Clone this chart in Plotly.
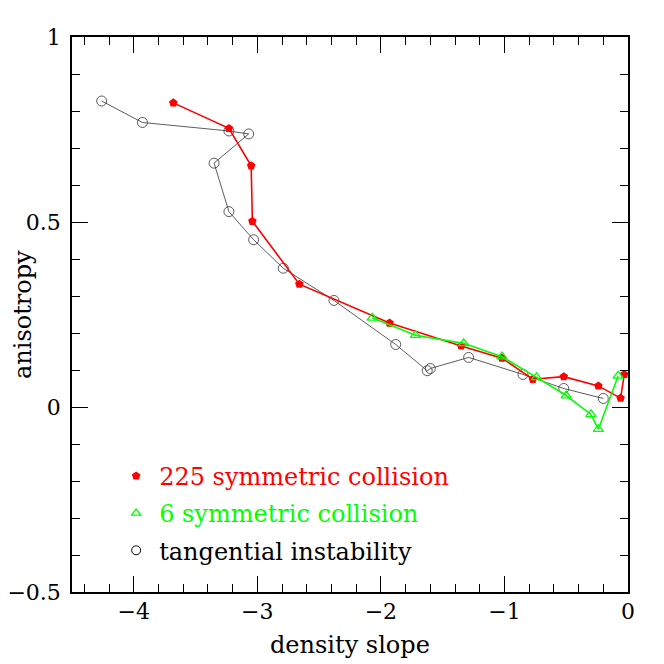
import plotly.graph_objects as go

# 225 symmetric collision
red_x = [-3.68, -3.23, -3.05, -3.04, -2.66, -1.93, -1.35, -1.02, -0.77, -0.52, -0.24, -0.06, -0.03]
red_y = [0.822, 0.753, 0.652, 0.502, 0.332, 0.227, 0.165, 0.132, 0.075, 0.082, 0.057, 0.024, 0.088]

# 6 symmetric collision
green_x = [-2.07, -1.72, -1.33, -1.02, -0.74, -0.50, -0.30, -0.24, -0.08]
green_y = [0.241, 0.194, 0.172, 0.136, 0.080, 0.031, -0.020, -0.060, 0.084]

# tangential instability
black_x = [-4.26, -3.93, -3.23, -3.07, -3.35, -3.23, -3.03, -2.79, -2.38, -1.88, -1.625, -1.60, -1.29, -0.85, -0.52, -0.20]
black_y = [0.827, 0.769, 0.746, 0.738, 0.659, 0.528, 0.452, 0.375, 0.288, 0.169, 0.098, 0.104, 0.134, 0.088, 0.050, 0.023]

labels = ["225 symmetric collision", "6 symmetric collision", "tangential instability"]
colors = ["#ff0000", "#00ff00", "#000000"]

FONT = "DejaVu Serif"
TICK_FS = 22
TEXT_FS = 24

fig = go.Figure()

fig.add_trace(go.Scatter(x=black_x, y=black_y, mode="lines+markers", showlegend=False,
                         line=dict(color="#333333", width=0.8),
                         marker=dict(symbol="circle-open", size=10, color="#333333", line=dict(width=0.8))))
fig.add_trace(go.Scatter(x=red_x, y=red_y, mode="lines+markers", showlegend=False,
                         line=dict(color=colors[0], width=1.6),
                         marker=dict(symbol="pentagon", size=9, color=colors[0])))
fig.add_trace(go.Scatter(x=green_x, y=green_y, mode="lines+markers", showlegend=False,
                         line=dict(color=colors[1], width=1.6),
                         marker=dict(symbol="triangle-up-open", size=9, color=colors[1], line=dict(width=1.3))))

# legend-only entries (marker without line, coloured text)
legend_markers = [
    dict(symbol="pentagon", size=9, color=colors[0]),
    dict(symbol="triangle-up-open", size=8, color=colors[1], line=dict(width=1.3)),
    dict(symbol="circle-open", size=9, color=colors[2], line=dict(width=1)),
]
for i, (lab, col, mk) in enumerate(zip(labels, colors, legend_markers)):
    fig.add_trace(go.Scatter(x=[None], y=[None], mode="markers", marker=mk,
                             name=f"<span style='color:{col}'>{lab}</span>",
                             legendgroup=f"g{i}"))

axis_common = dict(
    showgrid=False, zeroline=False, showline=True, linecolor="black", linewidth=1.5,
    mirror="allticks", ticks="inside", ticklen=16, tickwidth=1.2, tickcolor="black",
    tickfont=dict(family=FONT, size=TICK_FS, color="black"), automargin=False,
)

fig.update_xaxes(range=[-4.5, 0], dtick=1, tick0=0, ticklabelstandoff=-1,
                 minor=dict(dtick=0.2, tick0=0, ticks="inside", ticklen=8, tickwidth=1.2, tickcolor="black"),
                 **axis_common)
fig.update_yaxes(range=[-0.5, 1], dtick=0.5, tick0=0, ticklabelstandoff=5,
                 minor=dict(dtick=0.1, tick0=0, ticks="inside", ticklen=8, tickwidth=1.2, tickcolor="black"),
                 **axis_common)

fig.add_annotation(text="density slope", xref="paper", yref="paper", x=0.5, y=-0.095,
                   xanchor="center", yanchor="middle",
                   showarrow=False, font=dict(family=FONT, size=TEXT_FS, color="black"))
fig.add_annotation(text="anisotropy", xref="paper", yref="paper", x=-0.089, y=0.50,
                   xanchor="center", yanchor="middle",
                   textangle=-90, showarrow=False, font=dict(family=FONT, size=TEXT_FS, color="black"))

# page body adds an 8px offset, margins compensate so the frame lands at 72..628 / 37..592
fig.update_layout(
    width=664, height=664,
    margin=dict(l=64, r=44, t=29, b=80),
    paper_bgcolor="white", plot_bgcolor="white",
    font=dict(family=FONT, size=TICK_FS, color="black"),
    legend=dict(x=0.074, y=0.249, xanchor="left", yanchor="top", bgcolor="rgba(0,0,0,0)",
                traceorder="grouped", tracegroupgap=3, itemwidth=36,
                font=dict(family=FONT, size=TEXT_FS)),
)

fig.write_html("out.html")
